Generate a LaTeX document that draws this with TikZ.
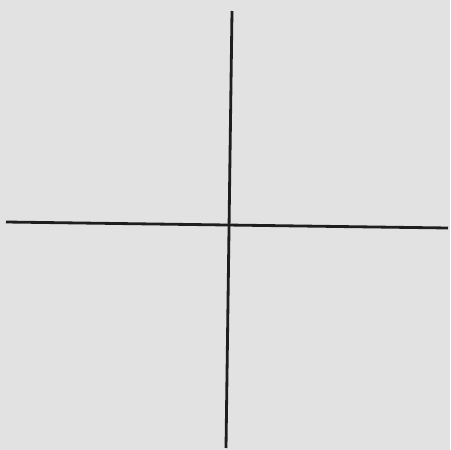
\documentclass[tikz,border=0pt]{standalone}
\usepackage{tikz}

\definecolor{paper}{HTML}{E2E2E2}
\definecolor{ink}{HTML}{1E1E1E}

\begin{document}
\begin{tikzpicture}[
        x=0.02cm, y=-0.02cm,
        axisline/.style={draw=ink, line width=1.6pt}
    ]
        \fill[paper] (0,0) rectangle (450,450);
        \useasboundingbox (0,0) rectangle (450,450);

        \coordinate (top) at (232,11);
        \coordinate (bottom) at (226,448);
        \coordinate (left) at (6,222);
        \coordinate (right) at (448,228);

        \draw[axisline] (top) -- (bottom);
        \draw[axisline] (left) -- (right);
    \end{tikzpicture}
\end{document}
